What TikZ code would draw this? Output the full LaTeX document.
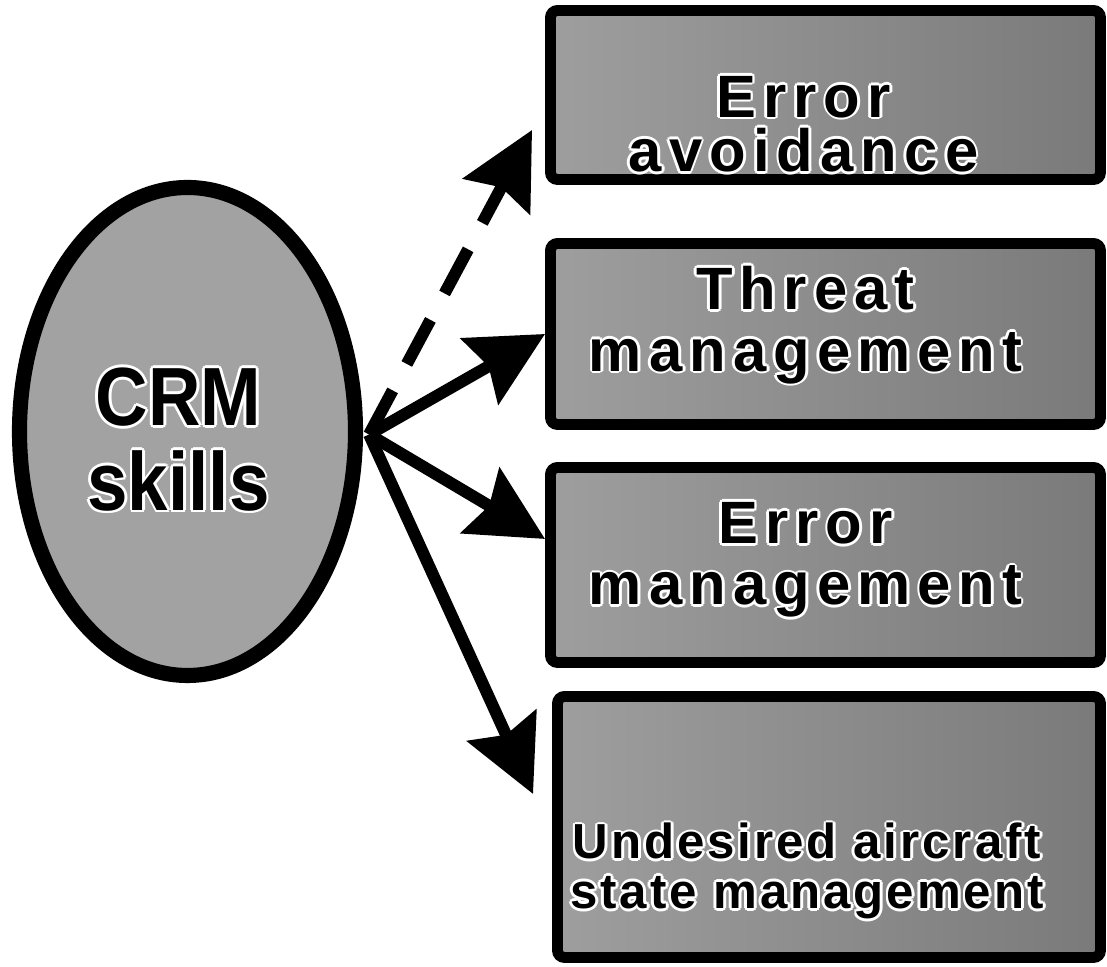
\documentclass[tikz,border=0pt]{standalone}
\usepackage{fontspec}
\setmainfont{Liberation Sans}
\newfontfamily\cardfont{Liberation Sans}[LetterSpace=12]
\newfontfamily\widecardfont{Liberation Sans}[LetterSpace=6]
\newfontfamily\ovalfont{Liberation Sans}[FakeStretch=0.88]
\usepackage{xcolor}
\definecolor{ovalFill}{RGB}{162,162,162}
\definecolor{cardLight}{RGB}{158,158,158}
\definecolor{cardDark}{RGB}{122,122,122}
\usepackage{tikz}
\usetikzlibrary{arrows.meta,shapes.geometric,positioning,calc}
% texto com contorno branco
\newcommand\halocopy[3]{\rlap{\kern#1\raise#2\hbox{\color{white}#3}}}
\newcommand\halo[1]{%
  \halocopy{-.8pt}{0pt}{#1}\halocopy{.8pt}{0pt}{#1}%
  \halocopy{0pt}{.8pt}{#1}\halocopy{0pt}{-.8pt}{#1}%
  \halocopy{-.55pt}{.55pt}{#1}\halocopy{.55pt}{.55pt}{#1}%
  \halocopy{-.55pt}{-.55pt}{#1}\halocopy{.55pt}{-.55pt}{#1}%
  #1}
\tikzstyle{crmoval}=[ellipse, draw=black, line width=4.3pt, fill=ovalFill, minimum width=3.36cm, minimum height=4.88cm, inner sep=0pt]
\tikzstyle{ovaltext}=[align=center, inner sep=0pt, font=\ovalfont\bfseries\fontsize{23.5}{24}\selectfont]
\tikzstyle{card}=[rectangle, draw=black, line width=3.1pt, left color=cardLight, right color=cardDark, rounded corners=2pt, minimum width=5.5cm, inner sep=0pt]
\tikzstyle{cardtext}=[align=center, inner sep=0pt, font=\cardfont\bfseries\fontsize{17}{17.5}\selectfont]
\tikzstyle{widecardtext}=[align=center, inner sep=0pt, font=\widecardfont\bfseries\fontsize{14}{14}\selectfont]
\tikzstyle{skillarrow}=[-{Stealth[length=7.5mm, width=7.5mm, inset=1mm]}, line width=3.4pt]

\begin{document}
\begin{tikzpicture}
    \useasboundingbox (0,0) rectangle (11.07,9.67);

    % Elipse
    \node[crmoval] (crm) at (1.875,5.355) {};
    \node[ovaltext] (crmtxt) at ([xshift=-0.9mm,yshift=-0.8mm]crm.center)
      {\halo{CRM}\\\halo{skills}};

    % Caixas
    \node[card, minimum height=1.69cm] (avoid) at (8.255,8.72) {};
    \node[card, minimum height=1.81cm] (threat) at (8.255,6.33) {};
    \node[card, minimum height=1.95cm] (errmgmt) at (8.255,4.02) {};
    \node[card, minimum width=5.43cm, minimum height=2.61cm] (uas) at (8.29,1.40) {};

    % Textos das caixas
    \node[cardtext, font=\cardfont\bfseries\fontsize{17}{15.5}\selectfont] (avoidtxt)
      at ([xshift=-2.2mm,yshift=-2.9mm]avoid.center) {\halo{Error}\\\halo{avoidance}};
    \node[cardtext] (threattxt) at ([xshift=-2mm,yshift=0.9mm]threat.center)
      {\halo{Threat}\\\halo{management}};
    \node[cardtext] (errmgmttxt) at ([xshift=-2mm,yshift=0.5mm]errmgmt.center)
      {\halo{Error}\\\halo{management}};
    \node[widecardtext] (uastxt) at ([xshift=-2.2mm,yshift=-4.4mm]uas.center)
      {\halo{Undesired aircraft}\\\halo{state management}};

    % Setas
    \coordinate (hub) at ([xshift=0.6mm,yshift=-0.3mm]crm.east);
    \draw[skillarrow, dash pattern=on 5mm off 3mm] (hub) -- ([xshift=-1.3mm,yshift=-3.5mm]avoid.west);
    \draw[skillarrow] (hub) -- (threat.west);
    \draw[skillarrow] (hub) -- ([yshift=2.6mm]errmgmt.west);
    \draw[skillarrow] (hub) -- ([xshift=-1.9mm,yshift=3.3mm]uas.west);
  \end{tikzpicture}
\end{document}
